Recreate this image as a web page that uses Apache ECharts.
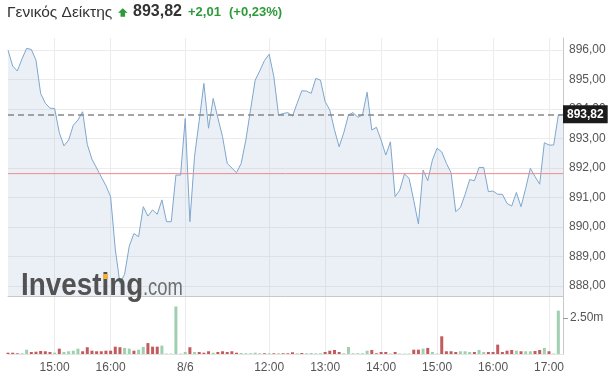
<!DOCTYPE html>
<html><head><meta charset="utf-8">
<script src="https://cdn.jsdelivr.net/npm/echarts@6.0.0/dist/echarts.min.js"></script>
<style>html,body{margin:0;padding:0;background:#fff}#c{width:616px;height:384px}</style>
</head><body><div id="c"></div>
<script>
const categories = [
 "7/6 14:10","7/6 14:15","7/6 14:20","7/6 14:25","7/6 14:30","7/6 14:35","7/6 14:40","7/6 14:45","7/6 14:50","7/6 14:55",
 "7/6 15:00","7/6 15:05","7/6 15:10","7/6 15:15","7/6 15:20","7/6 15:25","7/6 15:30","7/6 15:35","7/6 15:40","7/6 15:45",
 "7/6 15:50","7/6 15:55","7/6 16:00","7/6 16:05","7/6 16:10","7/6 16:15","7/6 16:20","7/6 16:25","7/6 16:30","7/6 16:35",
 "7/6 16:40","7/6 16:45","7/6 16:50","7/6 16:55","7/6 17:00","7/6 17:05","7/6 17:10","7/6 17:15","8/6 10:30","8/6 10:35",
 "8/6 10:40","8/6 10:45","8/6 10:50","8/6 10:55","8/6 11:00","8/6 11:05","8/6 11:10","8/6 11:15","8/6 11:20","8/6 11:25",
 "8/6 11:30","8/6 11:35","8/6 11:40","8/6 11:45","8/6 11:50","8/6 11:55","8/6 12:00","8/6 12:05","8/6 12:10","8/6 12:15",
 "8/6 12:20","8/6 12:25","8/6 12:30","8/6 12:35","8/6 12:40","8/6 12:45","8/6 12:50","8/6 12:55","8/6 13:00","8/6 13:05",
 "8/6 13:10","8/6 13:15","8/6 13:20","8/6 13:25","8/6 13:30","8/6 13:35","8/6 13:40","8/6 13:45","8/6 13:50","8/6 13:55",
 "8/6 14:00","8/6 14:05","8/6 14:10","8/6 14:15","8/6 14:20","8/6 14:25","8/6 14:30","8/6 14:35","8/6 14:40","8/6 14:45",
 "8/6 14:50","8/6 14:55","8/6 15:00","8/6 15:05","8/6 15:10","8/6 15:15","8/6 15:20","8/6 15:25","8/6 15:30","8/6 15:35",
 "8/6 15:40","8/6 15:45","8/6 15:50","8/6 15:55","8/6 16:00","8/6 16:05","8/6 16:10","8/6 16:15","8/6 16:20","8/6 16:25",
 "8/6 16:30","8/6 16:35","8/6 16:40","8/6 16:45","8/6 16:50","8/6 16:55","8/6 17:00","8/6 17:05","8/6 17:10","8/6 17:15"
];
const prices = [
 896.00,895.46,895.29,895.70,896.06,896.02,895.66,894.53,894.20,894.03,
 894.02,893.20,892.75,892.95,893.45,893.63,893.91,892.80,892.30,892.00,
 891.70,891.40,891.03,889.25,888.09,888.40,889.35,889.78,889.67,890.69,
 890.37,890.58,890.43,890.92,890.18,890.18,891.76,891.76,893.68,890.18,
 892.40,893.60,894.87,893.35,894.36,893.70,893.06,892.16,892.00,891.84,
 892.16,892.95,893.97,894.98,895.30,895.65,895.86,895.10,893.80,893.85,
 893.88,893.76,894.20,894.62,894.61,894.53,895.04,894.98,894.25,893.97,
 893.30,892.72,893.20,893.80,893.88,893.72,893.80,894.57,893.29,893.38,
 892.95,892.44,892.89,891.03,891.25,891.80,891.65,890.90,890.10,891.93,
 891.57,892.27,892.67,892.55,892.16,891.84,890.52,890.66,891.10,891.61,
 891.57,892.02,892.02,891.20,891.22,891.11,891.11,890.80,890.71,891.17,
 890.69,891.31,891.99,891.71,891.45,892.86,892.78,892.78,893.80,893.82
];
const volumes = [
 0.09,0.09,0.05,0.05,0.30,0.14,0.16,0.21,0.19,0.14,
 0.10,0.37,0.14,0.19,0.23,0.37,0.19,0.47,0.23,0.19,
 0.19,0.23,0.23,0.51,0.47,0.42,0.37,0.23,0.30,0.49,
 0.76,0.51,0.51,0.58,0.03,0.03,3.30,0.03,0.14,0.47,
 0.14,0.14,0.09,0.19,0.09,0.14,0.19,0.14,0.19,0.09,
 0.07,0.05,0.05,0.09,0.05,0.05,0.05,0.05,0.05,0.05,
 0.05,0.12,0.05,0.07,0.05,0.07,0.05,0.05,0.14,0.23,
 0.28,0.14,0.05,0.49,0.05,0.05,0.05,0.23,0.28,0.05,
 0.14,0.14,0.03,0.14,0.03,0.03,0.03,0.30,0.30,0.37,
 0.42,0.14,0.03,1.23,0.19,0.19,0.14,0.19,0.19,0.14,
 0.14,0.28,0.14,0.14,0.14,0.65,0.14,0.23,0.28,0.23,
 0.19,0.19,0.19,0.21,0.28,0.42,0.19,0.03,3.01,0
];
const volumeDirections = [
 'd','d','d','u','u','d','d','d','d','d',
 'u','d','u','u','u','u','d','d','d','d',
 'd','d','d','d','d','u','u','d','u','u',
 'd','d','d','u','u','u','u','u','u','d',
 'u','d','d','d','u','d','d','d','d','d',
 'u','u','u','u','u','d','u','d','u','d',
 'd','d','u','d','u','u','u','u','d','d',
 'd','d','u','u','u','u','u','u','d','d',
 'd','d','u','d','u','u','u','d','d','u',
 'd','u','u','d','d','d','d','u','u','u',
 'd','u','u','d','d','d','d','d','d','u',
 'd','u','u','d','d','u','d','u','u','u'
];
const prevClose = 891.81;
const tickCategories = ["7/6 15:00","7/6 16:00","8/6 10:30","8/6 12:00","8/6 13:00","8/6 14:00","8/6 15:00","8/6 16:00","8/6 17:00"];
const tickLabels = ["15:00","16:00","8/6","12:00","13:00","14:00","15:00","16:00","17:00"];
const volumeTicks = [2.5];
const title = "Γενικός Δείκτης";

const FONT = 'Arial, "Liberation Sans", sans-serif';
const GREEN = '#2e9b3b';
const RED_LINE = '#f08a8a';
const fmt = v => v.toFixed(2).replace('.', ',');
const last = prices[prices.length - 1];
const change = last - prevClose;
const pct = change / prevClose * 100;
const isTick = (i, v) => tickCategories.indexOf(v) >= 0;

const chart = echarts.init(document.getElementById('c'), null, {renderer: 'canvas'});
chart.setOption({
  animation: false,
  textStyle: {fontFamily: FONT},
  grid: [
    {left: 8, right: 53, top: 38, bottom: 88},
    {left: 8, right: 53, top: 296.4, bottom: 30}
  ],
  xAxis: [
    {type: 'category', gridIndex: 0, data: categories, boundaryGap: false,
     axisLine: {show: true, lineStyle: {color: '#c8c8c8'}}, axisTick: {show: false}, axisLabel: {show: false},
     splitLine: {show: true, interval: isTick, lineStyle: {color: '#ececec'}}},
    {type: 'category', gridIndex: 1, data: categories, boundaryGap: false,
     axisLine: {show: true, lineStyle: {color: '#e3e3e3'}}, axisTick: {show: false},
     axisLabel: {interval: isTick, formatter: v => tickLabels[tickCategories.indexOf(v)], color: '#555', fontSize: 12, margin: 8, fontFamily: FONT},
     splitLine: {show: true, interval: isTick, lineStyle: {color: '#ececec'}}}
  ],
  yAxis: [
    {type: 'value', gridIndex: 0, position: 'right', min: 887.66, max: 896.41, splitNumber: 8,
     axisLine: {show: true, lineStyle: {color: '#c8c8c8'}}, axisTick: {show: false},
     axisLabel: {showMinLabel: false, showMaxLabel: false, formatter: fmt, color: '#555', fontSize: 12, margin: 6, fontFamily: FONT},
     splitLine: {show: true, showMaxLine: false, showMinLine: false, lineStyle: {color: '#ececec'}}},
    {type: 'value', gridIndex: 1, position: 'right', min: 0, max: 4,
     axisLine: {show: true, lineStyle: {color: '#c8c8c8'}},
     axisTick: {show: true, customValues: volumeTicks, length: 5, lineStyle: {color: '#999'}},
     axisLabel: {customValues: volumeTicks, formatter: v => v.toFixed(2) + 'm', color: '#555', fontSize: 12, margin: 7, fontFamily: FONT},
     splitLine: {show: false}}
  ],
  series: [
    {type: 'line', xAxisIndex: 0, yAxisIndex: 0, data: prices, symbol: 'none', smooth: false,
     lineStyle: {color: '#7ea6cc', width: 1},
     areaStyle: {color: 'rgba(160,186,216,0.3)'},
     markLine: {silent: true, symbol: ['none', 'none'], animation: false,
       lineStyle: {color: '#888', type: [6, 4], width: 1.5},
       label: {show: true, position: 'end', distance: 0, color: '#fff', fontWeight: 'bold',
               fontSize: 12, fontFamily: FONT, backgroundColor: '#1b1b1b', padding: [3, 4, 2, 4], lineHeight: 13,
               formatter: p => fmt(p.value)},
       data: [{yAxis: last}]}},
    {type: 'line', xAxisIndex: 0, yAxisIndex: 0, silent: true, symbol: 'none', z: 4,
     data: [[categories[0], prevClose], [categories[categories.length - 1], prevClose]],
     itemStyle: {color: RED_LINE},
     lineStyle: {color: RED_LINE, width: 1, type: 'solid'}},
    {type: 'bar', xAxisIndex: 1, yAxisIndex: 1, barWidth: 3,
     data: volumes.map((v, i) => ({value: v, itemStyle: {color: volumeDirections[i] === 'u' ? '#9fcfb0' : '#c35b5d'}}))}
  ],
  graphic: [
    {type: 'text', x: 7, y: 12.5, style: {text: title, font: '15.5px ' + FONT, fill: '#333', verticalAlign: 'middle'}},
    {type: 'polygon', shape: {points: [[122.8, 8.3], [127.6, 12.8], [125.1, 12.8], [125.1, 16.8], [120.5, 16.8], [120.5, 12.8], [118, 12.8]]}, style: {fill: GREEN}},
    {type: 'text', x: 133, y: 12, style: {text: fmt(last), font: 'bold 16px ' + FONT, fill: '#333', verticalAlign: 'middle'}},
    {type: 'text', x: 188, y: 12.5, style: {text: (change >= 0 ? '+' : '') + fmt(change), font: 'bold 13px ' + FONT, fill: GREEN, verticalAlign: 'middle'}},
    {type: 'text', x: 229, y: 12.5, style: {text: '(' + (pct >= 0 ? '+' : '') + fmt(pct) + '%)', font: 'bold 13px ' + FONT, fill: GREEN, verticalAlign: 'middle'}},
    {type: 'text', x: 21, y: 286, scaleX: 0.87, z: 10, style: {text: 'Investing', font: 'bold 32px ' + FONT, fill: '#525252', verticalAlign: 'middle'}},
    {type: 'text', x: 143, y: 289, scaleX: 0.8, z: 10, style: {text: '.com', font: '23px ' + FONT, fill: '#6e6e6e', verticalAlign: 'middle'}},
    {type: 'rect', z: 11, shape: {x: 103, y: 274, width: 5, height: 5}, style: {fill: '#f2b23a'}}
  ]
});
</script>
</body></html>
